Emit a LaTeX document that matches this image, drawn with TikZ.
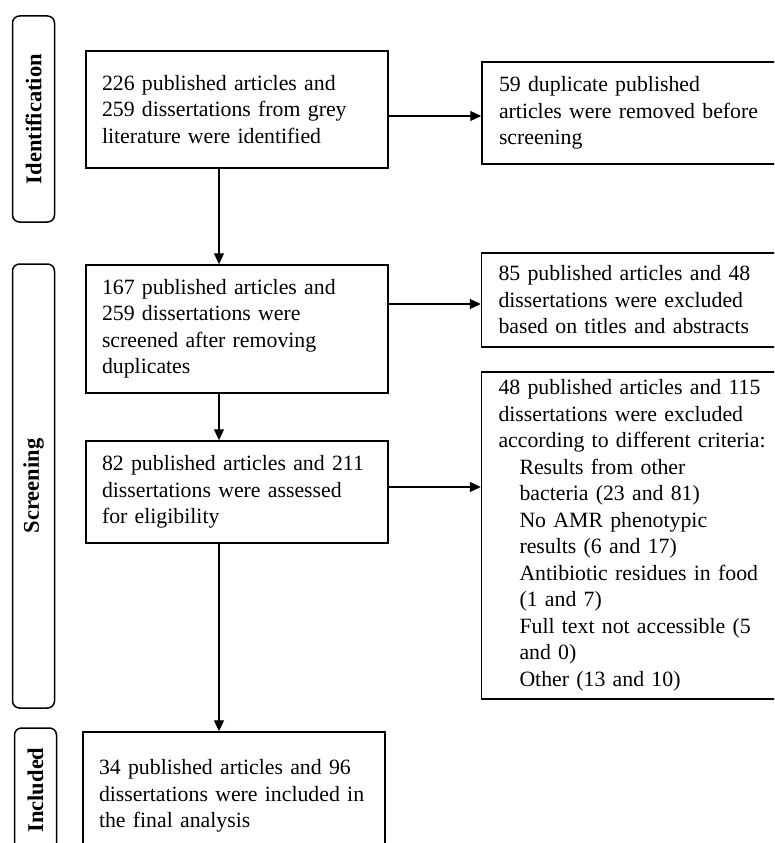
\documentclass[tikz,border=0pt]{standalone}
\usepackage{fontspec}
\setmainfont{Liberation Serif}
\usetikzlibrary{arrows.meta}
\tikzstyle{phase} = [draw, line width=1.5pt, rounded corners=7pt, rotate=90, minimum height=42pt, inner sep=0pt, font=\fontsize{22.5}{26}\selectfont\bfseries]
\tikzstyle{infobox} = [draw, line width=1.5pt, align=left, inner xsep=16pt, inner ysep=0pt, font=\fontsize{21.8}{26.5}\selectfont]
\tikzstyle{arrow} = [-{Triangle[length=11pt, width=10pt]}, line width=1.1pt]
\newcommand{\crit}[1]{\hspace*{21pt}#1}
\begin{document}
\begin{tikzpicture}[x=1pt, y=-1pt]
    \useasboundingbox (0, 0) rectangle (774, 843);
    \clip (0, 0) rectangle (774, 843);

    % Phase labels
    \node[phase, minimum width=206pt] (identlabel) at (33.5, 119) {Identification};
    \node[phase, minimum width=444pt] (screenlabel) at (33.5, 486) {Screening};
    \node[phase, minimum width=124pt] (inclabel) at (35.5, 790) {Included};

    % Main column
    \node[infobox, text width=270pt, minimum height=117pt] (found) at (237, 109.5) {
        226 published articles and\\
        259 dissertations from grey\\
        literature were identified
    };
    \node[infobox, text width=270pt, minimum height=128pt] (screened) at (237, 329) {
        167 published articles and\\
        259 dissertations were\\
        screened after removing\\
        duplicates
    };
    \node[infobox, text width=270pt, minimum height=102pt] (eligible) at (237, 492) {
        82 published articles and 211\\
        dissertations were assessed\\
        for eligibility
    };
    \node[infobox, text width=270pt, minimum height=128pt] (included) at (234, 796) {
        34 published articles and 96\\
        dissertations were included in\\
        the final analysis
    };

    % Excluded column
    \node[infobox, inner xsep=17pt, text width=274pt, minimum height=102pt] (dupes) at (636, 113) {
        59 duplicate published\\
        articles were removed before\\
        screening
    };
    \node[infobox, inner xsep=17pt, text width=274pt, minimum height=94pt] (titles) at (635.5, 300) {
        85 published articles and 48\\
        dissertations were excluded\\
        based on titles and abstracts
    };
    \node[infobox, inner xsep=17pt, text width=274pt, minimum height=327pt] (criteria) at (635.5, 535.5) {
        48 published articles and 115\\
        dissertations were excluded\\
        according to different criteria:\\
        \crit{Results from other}\\
        \crit{bacteria (23 and 81)}\\
        \crit{No AMR phenotypic}\\
        \crit{results (6 and 17)}\\
        \crit{Antibiotic residues in food}\\
        \crit{(1 and 7)}\\
        \crit{Full text not accessible (5}\\
        \crit{and 0)}\\
        \crit{Other (13 and 10)}
    };

    % Arrows
    \coordinate (spine) at (219, 0);
    \draw[arrow] (found.south -| spine) -- (screened.north -| spine);
    \draw[arrow] (screened.south -| spine) -- (eligible.north -| spine);
    \draw[arrow] (eligible.south -| spine) -- (included.north -| spine);
    \draw[arrow] ([yshift=-6.5pt]found.east) -- ([yshift=-6.5pt]found.east -| dupes.west);
    \draw[arrow] ([yshift=-4pt]screened.east |- titles.west) -- ([yshift=-4pt]titles.west);
    \draw[arrow] ([yshift=5pt]eligible.east) -- ([yshift=5pt]eligible.east -| criteria.west);
\end{tikzpicture}
\end{document}
